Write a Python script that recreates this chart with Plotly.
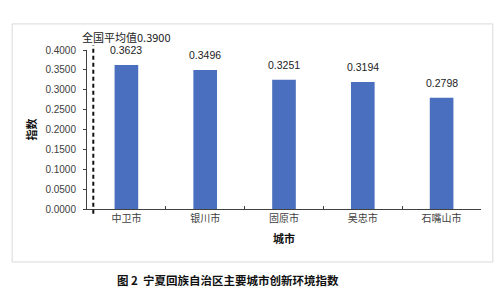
import plotly.graph_objects as go

cities = ["中卫市", "银川市", "固原市", "吴忠市", "石嘴山市"]
values = [0.3623, 0.3496, 0.3251, 0.3194, 0.2798]
national_avg = 0.3900
y_ticks = [0.0, 0.05, 0.10, 0.15, 0.20, 0.25, 0.30, 0.35, 0.40]
caption = "图\u00a02\u00a0\u00a0宁夏回族自治区主要城市创新环境指数"

FONT = "Liberation Sans, Arial, Noto Sans CJK SC"

fig = go.Figure()
fig.add_trace(go.Bar(
    x=cities, y=values, marker=dict(color="#4a6fbf", line=dict(width=0)),
    width=0.3, showlegend=False, hoverinfo="skip",
))

# value labels above bars
for c, v in zip(cities, values):
    fig.add_annotation(x=c, y=v, xref="x", yref="y", text=f"{v:.4f}",
                       showarrow=False, yanchor="middle", yshift=15,
                       font=dict(family=FONT, size=10.5, color="#222222"))

# national average dashed line (vertical marker near the y axis)
fig.add_shape(type="line", xref="x", yref="paper", x0=-0.42, x1=-0.42,
              y0=-0.03, y1=1.03, line=dict(color="#111111", width=2, dash="4px,3px"))
fig.add_annotation(x=0, xref="x", y=1, yref="paper", yshift=13,
                   text=f"全国平均值{national_avg:.4f}", showarrow=False,
                   yanchor="middle", font=dict(family="Noto Sans CJK SC", size=11, color="#222222"))

# outer frame
fig.add_shape(type="rect", xref="paper", yref="paper", x0=-0.19, x1=1.030,
              y0=-0.333, y1=1.164, line=dict(color="#d9d9d9", width=1), layer="below")

# caption
fig.add_annotation(x=0.358, xref="paper", y=-0.447, yref="paper", text=caption,
                   showarrow=False, xanchor="center", yanchor="middle",
                   font=dict(family="Noto Sans CJK SC", size=11.5, color="#111111", weight="bold"))

fig.update_xaxes(
    type="category", range=[-0.5, 4.5], showline=True, linecolor="#404040", linewidth=1,
    ticks="inside", tickson="boundaries", ticklen=3, tickcolor="#404040",
    tickfont=dict(family="Noto Sans CJK SC", size=10, color="#404040"),
    showgrid=False, zeroline=False,
    title=dict(text="城市", font=dict(family="Noto Sans CJK SC", size=11, color="#111111", weight="bold"), standoff=11),
)
fig.update_yaxes(
    range=[0, 0.4], tickvals=y_ticks, tickformat=".4f", showline=True, linecolor="#404040",
    linewidth=1, ticks="outside", ticklen=3, tickcolor="#404040", showgrid=False, zeroline=False,
    ticklabelstandoff=5,
    tickfont=dict(family=FONT, size=10, color="#404040"),
    title=dict(text="指数", font=dict(family="Noto Sans CJK SC", size=11, color="#111111", weight="bold"), standoff=6),
)
fig.update_layout(
    width=500, height=305, margin=dict(l=87, r=19, t=50, b=96),
    paper_bgcolor="white", plot_bgcolor="white", bargap=0.7,
)
fig.write_html("out.html")
